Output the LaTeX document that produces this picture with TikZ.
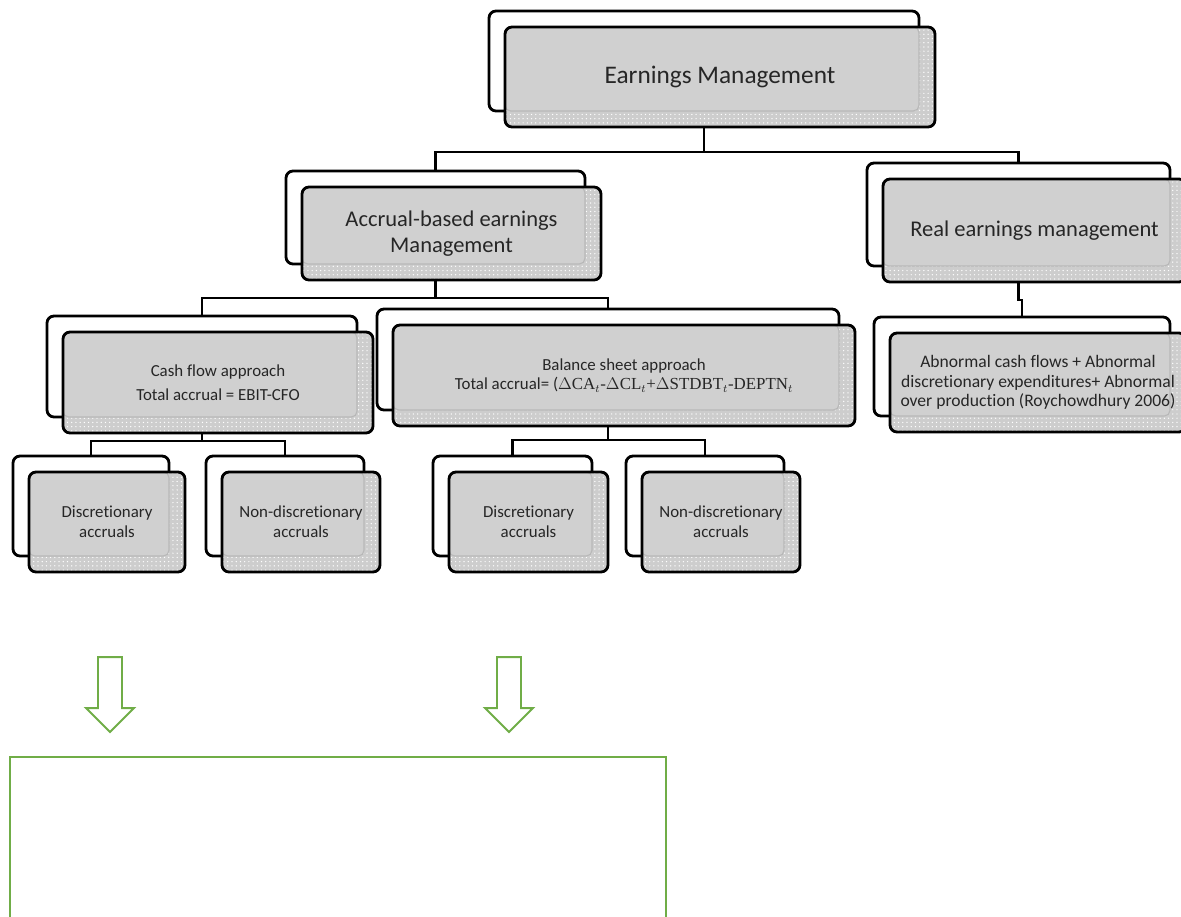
\documentclass[tikz,border=0pt]{standalone}
\usepackage{fontspec}
\setmainfont{Carlito}[Ligatures=NoCommon]
\newfontfamily\formulafont{Liberation Serif}
\usetikzlibrary{patterns,fit,backgrounds}
\definecolor{BoxGray}{HTML}{D0D0D0}
\definecolor{StripGray}{HTML}{CDCDCD}
\definecolor{EdgeGray}{HTML}{B8B8B8}
\definecolor{LeafGreen}{HTML}{70AD47}

\begin{document}
\begin{tikzpicture}[x=0.025cm, y=-0.025cm,
  boxsize/.style 2 args = {minimum width=#1*0.025cm, minimum height=#2*0.025cm},
  back/.style  = {draw=black, fill=white, line width=2pt, rounded corners=5pt,
                  inner sep=0pt, outer sep=0pt},
  front/.style = {draw=black, fill=StripGray, line width=2pt, rounded corners=5pt,
                  inner sep=0pt, outer sep=0pt, align=center, text=black!85,
                  path picture={
                    \fill[pattern=dots, pattern color=white]
                      (path picture bounding box.south west) rectangle
                      (path picture bounding box.north east);
                    \filldraw[fill=BoxGray, draw=EdgeGray, line width=0.8pt, rounded corners=4pt]
                      (path picture bounding box.north west) rectangle
                      ([shift={(-0.4cm,0.4cm)}]path picture bounding box.south east);
                  }},
  titletxt/.style  = {font=\fontsize{18}{22}\selectfont},
  branchtxt/.style = {font=\fontsize{16}{19}\selectfont},
  leaftxt/.style   = {font=\fontsize{12}{14}\selectfont},
  conn/.style      = {draw=black, line width=1.5pt},
  hollow/.style    = {draw=LeafGreen, line width=1.4pt, line join=miter},
  greenbox/.style  = {draw=LeafGreen, line width=1.4pt, fill=white, inner sep=0pt}
]
  \useasboundingbox (0,0) rectangle (1181,916);

  \node[front, titletxt, boxsize={430}{100}] (em) at (720,77) {Earnings Management};

  \node[front, branchtxt, boxsize={299}{93}] (acc) at (451.5,233.5)
    {Accrual-based earnings\\Management};
  \node[front, branchtxt, boxsize={303}{103}] (real) at (1034.5,230.5)
    {Real earnings management};

  \node[front, leaftxt, boxsize={310}{101}] (cash) at (218,382.5)
    {Cash flow approach\\[3pt]Total accrual = EBIT-CFO};
  \node[front, leaftxt, boxsize={462}{101}] (bal) at (624,375.5)
    {Balance sheet approach\\Total accrual= ({\formulafont $\Delta$CA$_t$-$\Delta$CL$_t$+$\Delta$STDBT$_t$-DEPTN$_t$}};
  \node[front, font=\fontsize{12.5}{14}\selectfont, boxsize={296}{99}] (abn) at (1038,382.5)
    {Abnormal cash flows + Abnormal\\discretionary expenditures+ Abnormal\\over production (Roychowdhury 2006)};

  \node[front, leaftxt, boxsize={156}{100}] (d1) at (107,522) {Discretionary\\accruals};
  \node[front, leaftxt, boxsize={158}{100}] (n1) at (301,522) {Non-discretionary\\accruals};
  \node[front, leaftxt, boxsize={159}{100}] (d2) at (528.5,522) {Discretionary\\accruals};
  \node[front, leaftxt, boxsize={158}{100}] (n2) at (721,522) {Non-discretionary\\accruals};

  \begin{scope}[on background layer]
    \foreach \n in {em,acc,real,cash,bal,abn,d1,n1,d2,n2}{
      \node[back, fit={([shift={(-16,-16)}]\n.north west) ([shift={(-16,-16)}]\n.south east)}] (\n-b) {};
    }
  \end{scope}

  \foreach \p/\c/\d in {em/acc/25, em/real/25, acc/cash/18, acc/bal/18, real/abn/18,
                        cash/d1/8, cash/n1/8, bal/d2/14, bal/n2/14}{
    \draw[conn] (\p-b.center |- \p.south) -- ++(0,\d) -| (\c-b.north);
  }

  \foreach \ax in {110,509}{
    \draw[hollow] (\ax-12,657) -- (\ax+12,657) -- (\ax+12,708) -- (\ax+24,708)
      -- (\ax,732) -- (\ax-24,708) -- (\ax-12,708) -- cycle;
  }
  \node[greenbox, boxsize={656}{172}] (result) at (338,843) {};
\end{tikzpicture}
\end{document}
